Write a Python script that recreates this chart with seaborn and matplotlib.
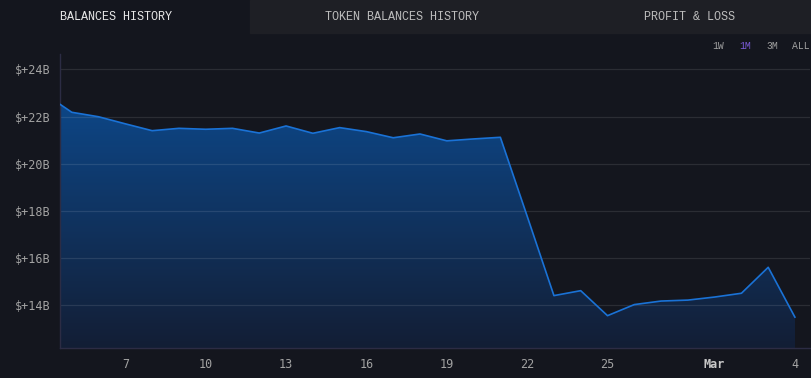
import matplotlib
matplotlib.use('Agg')

import numpy as np
import pandas as pd
import matplotlib.pyplot as plt
from matplotlib.colors import LinearSegmentedColormap
import seaborn as sns

# days counted from Feb 1 (Mar 1 = 29)
days = [4.56, 5, 6, 7, 8, 9, 10, 11, 12, 13, 14, 15, 16, 17, 18, 19, 20, 21,
        22, 23, 24, 25, 26, 27, 28, 29, 30, 31, 32]
balance_b = [22.52, 22.18, 21.99, 21.69, 21.40, 21.50, 21.46, 21.50, 21.30, 21.60,
             21.29, 21.53, 21.36, 21.10, 21.26, 20.97, 21.05, 21.12,
             17.78, 14.41, 14.62, 13.56, 14.03, 14.18, 14.22, 14.35, 14.51, 15.61, 13.49]

tick_days = [7, 10, 13, 16, 19, 22, 25, 29, 32]
tick_labels = ['7', '10', '13', '16', '19', '22', '25', 'Mar', '4']
y_ticks = [14, 16, 18, 20, 22, 24]

tabs = ['BALANCES HISTORY', 'TOKEN BALANCES HISTORY', 'PROFIT & LOSS']
ranges = ['1W', '1M', '3M', 'ALL']

BG = '#14161e'

df = pd.DataFrame({'day': days, 'balance': balance_b})

sns.set_theme(style='dark')
plt.rcParams['font.family'] = ['DejaVu Sans Mono', 'DejaVu Sans']

fig = plt.figure(figsize=(8.11, 3.78), dpi=100, facecolor=BG)
ax = fig.add_axes([60 / 811, 30 / 378, 750 / 811, 294 / 378])
ax.set_facecolor(BG)

ylo, yhi = 12.19, 24.65
xlo, xhi = 4.56, 32.56

# gradient area fill
fill = ax.fill_between(df.day, df.balance, ylo, color='none', lw=0, zorder=1)
cmap = LinearSegmentedColormap.from_list('g', ['#131e35', '#0d4686'])
grad = np.linspace(0, 1, 256).reshape(-1, 1)
img = ax.imshow(grad, cmap=cmap, aspect='auto', origin='lower',
                extent=[df.day.min(), df.day.max(), ylo, df.balance.max()], zorder=1)
img.set_clip_path(fill.get_paths()[0], transform=ax.transData)

sns.lineplot(data=df, x='day', y='balance', ax=ax, color='#1a72d6', lw=1.2, zorder=3)

for y in y_ticks:
    ax.axhline(y, color='#ffffff', alpha=0.1, lw=0.9, zorder=2)

ax.set_xlim(xlo, xhi)
ax.set_ylim(ylo, yhi)
ax.set_xticks(tick_days)
ax.set_xticklabels(tick_labels)
ax.set_yticks(y_ticks)
ax.set_yticklabels([f'$+{v}B' for v in y_ticks])
ax.tick_params(axis='both', length=0, colors='#a3a3a3', labelsize=8.5)
ax.tick_params(axis='y', pad=7)
ax.tick_params(axis='x', pad=7)
for lab in ax.get_xticklabels():
    if lab.get_text() == 'Mar':
        lab.set_fontweight('bold')
        lab.set_color('#c8c8c8')
ax.set_xlabel('')
ax.set_ylabel('')
ax.grid(False)
for side in ['top', 'right']:
    ax.spines[side].set_visible(False)
for side in ['left', 'bottom']:
    ax.spines[side].set_visible(True)
    ax.spines[side].set_color('#2c2c44')
    ax.spines[side].set_linewidth(1)

# tab bar
fig.patches.append(plt.Rectangle((250 / 811, 345 / 378), 561 / 811, 33 / 378,
                                 transform=fig.transFigure, color='#1e1f25', zorder=0))
tab_x = [116, 402, 689]
for i, (t, x) in enumerate(zip(tabs, tab_x)):
    fig.text(x / 811, 1 - 17 / 378, t, ha='center', va='center',
             family=['Liberation Mono', 'DejaVu Sans Mono'], fontsize=8.5,
             color='#e8e8e8' if i == 0 else '#bdbdbd')

range_x = [718, 745, 772, 801]
for r, x in zip(ranges, range_x):
    fig.text(x / 811, 1 - 46 / 378, r, ha='center', va='center',
             family=['Liberation Mono', 'DejaVu Sans Mono'], fontsize=7,
             color='#7a5ad8' if r == '1M' else '#a0a0a0')

fig.savefig('out.png', dpi=100, facecolor=BG)
